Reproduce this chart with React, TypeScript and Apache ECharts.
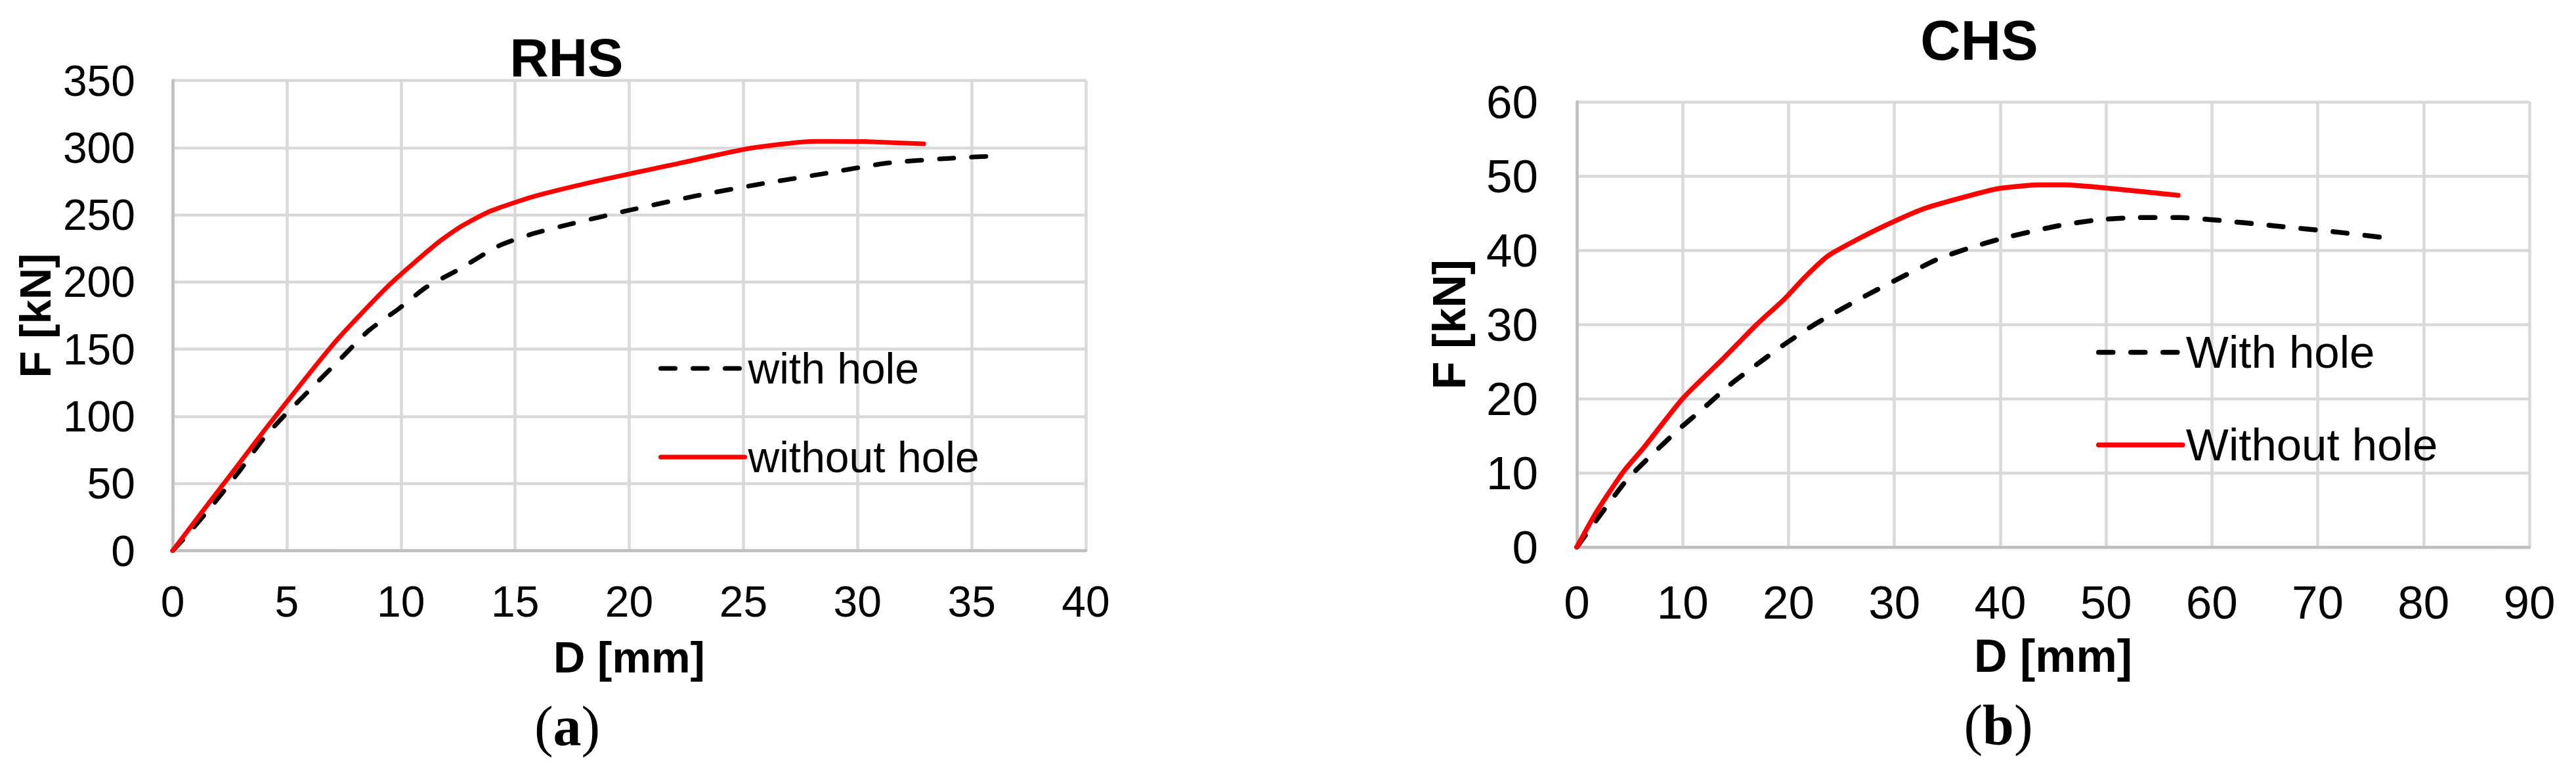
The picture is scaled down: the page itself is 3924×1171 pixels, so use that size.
import React, { useEffect, useRef } from "react";
import * as echarts from "echarts";

// ---- RHS (a) ----
const rhsWithHoleD = [0, 0.5, 1.78, 2.96, 3.96, 4.75, 5.5, 7.4, 8.6, 9.9, 11.1, 12.5, 14.3, 15.8, 17.4, 19.9, 22.9, 25.7, 28.45, 31.3, 34.0, 36.3];
const rhsWithHoleF = [0, 9, 34.5, 60, 83, 98, 111, 143.6, 164, 180, 196, 209, 227, 236, 243, 253, 264, 272.8, 280.4, 288.5, 292, 294];
const rhsWithoutHoleD = [0, 1.7, 2.56, 4.27, 7.1, 9.5, 11.6, 12.6, 13.9, 15.85, 18.8, 22.1, 25.3, 28.15, 30.3, 32.9];
const rhsWithoutHoleF = [0, 38, 57, 95, 155, 198, 229, 241, 252.6, 263.8, 276, 288, 299.5, 304.7, 304.5, 302.8];

// ---- CHS (b) ----
const chsWithHoleD = [0, 1.84, 4.68, 6.27, 9.43, 11.96, 14.5, 17.0, 19.6, 22.7, 27.2, 30.3, 34.1, 37.3, 40.5, 45.5, 49.3, 53.1, 56.9, 60.1, 65.8, 72.1, 76.2];
const chsWithHoleF = [0, 3.6, 9.0, 11.3, 15.6, 18.7, 21.9, 24.6, 27.3, 30.2, 33.8, 36.1, 38.8, 40.4, 41.7, 43.3, 44.1, 44.4, 44.4, 44.1, 43.3, 42.4, 41.7];
const chsWithoutHoleD = [0, 1.84, 4.37, 6.27, 10.06, 13.9, 17.0, 19.6, 21.5, 23.7, 25.9, 29.4, 32.8, 36.7, 39.8, 43.6, 46.1, 50.6, 56.8];
const chsWithoutHoleF = [0, 4.7, 10.1, 13.3, 20.1, 25.5, 30, 33.4, 36.3, 39.2, 41, 43.5, 45.6, 47.2, 48.3, 48.8, 48.8, 48.3, 47.4];

// ---- axes & labels ----
const rhsXAxis = { min: 0, max: 40, interval: 5 };
const rhsYAxis = { min: 0, max: 350, interval: 50 };
const chsXAxis = { min: 0, max: 90, interval: 10 };
const chsYAxis = { min: 0, max: 60, interval: 10 };
const rhsTitle = "RHS";
const chsTitle = "CHS";
const rhsLegend = ["with hole", "without hole"];
const chsLegend = ["With hole", "Without hole"];
const xName = "D [mm]";
const yName = "F [kN]";

const SANS = "'Liberation Sans', Arial, Helvetica, sans-serif";
const SERIF = "'Liberation Serif', 'Times New Roman', serif";

const pairs = (xs: number[], ys: number[]) => xs.map((x, i) => [x, ys[i]]);

function axisPair(
  gridIndex: number,
  xr: { min: number; max: number; interval: number },
  yr: { min: number; max: number; interval: number },
  fs: number,
  xMargin: number,
  yMargin: number,
  nameFs: number,
  xNameGap: number,
  yNameGap: number
) {
  const common = {
    type: "value" as const,
    gridIndex,
    axisTick: { show: false },
    axisLine: { show: true, lineStyle: { color: "#bfbfbf", width: 4.5 } },
    splitLine: { show: true, lineStyle: { color: "#d9d9d9", width: 4.5 } },
    nameLocation: "middle" as const,
    nameTextStyle: { fontFamily: SANS, fontSize: nameFs, fontWeight: "bold" as const, color: "#000" },
  };
  return {
    x: {
      ...common,
      min: xr.min,
      max: xr.max,
      interval: xr.interval,
      name: xName,
      nameGap: xNameGap,
      axisLabel: { fontFamily: SANS, fontSize: fs, color: "#000", margin: xMargin },
    },
    y: {
      ...common,
      min: yr.min,
      max: yr.max,
      interval: yr.interval,
      name: yName,
      nameGap: yNameGap,
      axisLabel: { fontFamily: SANS, fontSize: fs, color: "#000", margin: yMargin },
    },
  };
}

export default function App() {
  const ref = useRef<HTMLDivElement>(null);
  useEffect(() => {
    document.body.style.margin = "0";
    if (!ref.current) return;
    const chart = echarts.init(ref.current, null, { renderer: "svg" });
    const a = axisPair(0, rhsXAxis, rhsYAxis, 66, 44, 57, 67, 128, 176);
    const b = axisPair(1, chsXAxis, chsYAxis, 71, 49, 59, 70, 131, 159);

    const dashed = (w: number) => ({ color: "#000", width: w, type: [22, 27] as number[], cap: "round" as const });
    const solid = (w: number) => ({ color: "#ff0000", width: w, type: "solid" as const, cap: "round" as const });

    const legendBase = {
      orient: "vertical" as const,
      itemWidth: 128,
      itemHeight: 14,
      padding: 0,
      selectedMode: false,
      itemStyle: { opacity: 0 },
    };

    chart.setOption({
      animation: false,
      backgroundColor: "#ffffff",
      title: [
        { text: rhsTitle, left: 863, top: 46, textAlign: "center", padding: 0, textStyle: { fontFamily: SANS, fontSize: 82, fontWeight: "bold", color: "#000" } },
        { text: chsTitle, left: 3015, top: 19, textAlign: "center", padding: 0, textStyle: { fontFamily: SANS, fontSize: 85, fontWeight: "bold", color: "#000" } },
      ],
      grid: [
        { left: 263, top: 122.5, width: 1391, height: 716 },
        { left: 2402, top: 155, width: 1451, height: 678 },
      ],
      xAxis: [a.x, b.x],
      yAxis: [a.y, b.y],
      legend: [
        {
          ...legendBase,
          left: 1003,
          top: 528,
          itemGap: 69,
          data: rhsLegend,
          lineStyle: { width: 7 },
          textStyle: { fontFamily: SANS, fontSize: 66, color: "#000", lineHeight: 66 },
        },
        {
          ...legendBase,
          left: 3193,
          top: 502,
          itemGap: 72,
          data: chsLegend,
          lineStyle: { width: 7.5 },
          textStyle: { fontFamily: SANS, fontSize: 69, color: "#000", lineHeight: 69 },
        },
      ],
      series: [
        { name: rhsLegend[0], type: "line", xAxisIndex: 0, yAxisIndex: 0, symbol: "none", smooth: 0.2, color: "#000", lineStyle: dashed(7), data: pairs(rhsWithHoleD, rhsWithHoleF) },
        { name: rhsLegend[1], type: "line", xAxisIndex: 0, yAxisIndex: 0, symbol: "none", smooth: 0.2, color: "#ff0000", lineStyle: solid(7), data: pairs(rhsWithoutHoleD, rhsWithoutHoleF) },
        { name: chsLegend[0], type: "line", xAxisIndex: 1, yAxisIndex: 1, symbol: "none", smooth: 0.2, color: "#000", lineStyle: dashed(7.5), data: pairs(chsWithHoleD, chsWithHoleF) },
        { name: chsLegend[1], type: "line", xAxisIndex: 1, yAxisIndex: 1, symbol: "none", smooth: 0.2, color: "#ff0000", lineStyle: solid(7.5), data: pairs(chsWithoutHoleD, chsWithoutHoleF) },
      ],
      graphic: [
        {
          type: "text",
          x: 864,
          y: 1106,
          style: {
            text: "({b|a})",
            font: `86px ${SERIF}`,
            fill: "#000",
            align: "center",
            verticalAlign: "middle",
            rich: { b: { fontFamily: SERIF, fontSize: 86, fontWeight: "bold", fill: "#000" } },
          },
        },
        {
          type: "text",
          x: 3044,
          y: 1104,
          style: {
            text: "({b|b})",
            font: `86px ${SERIF}`,
            fill: "#000",
            align: "center",
            verticalAlign: "middle",
            rich: { b: { fontFamily: SERIF, fontSize: 86, fontWeight: "bold", fill: "#000" } },
          },
        },
      ],
    });
    return () => chart.dispose();
  }, []);
  return <div ref={ref} style={{ width: 3924, height: 1171 }} />;
}
